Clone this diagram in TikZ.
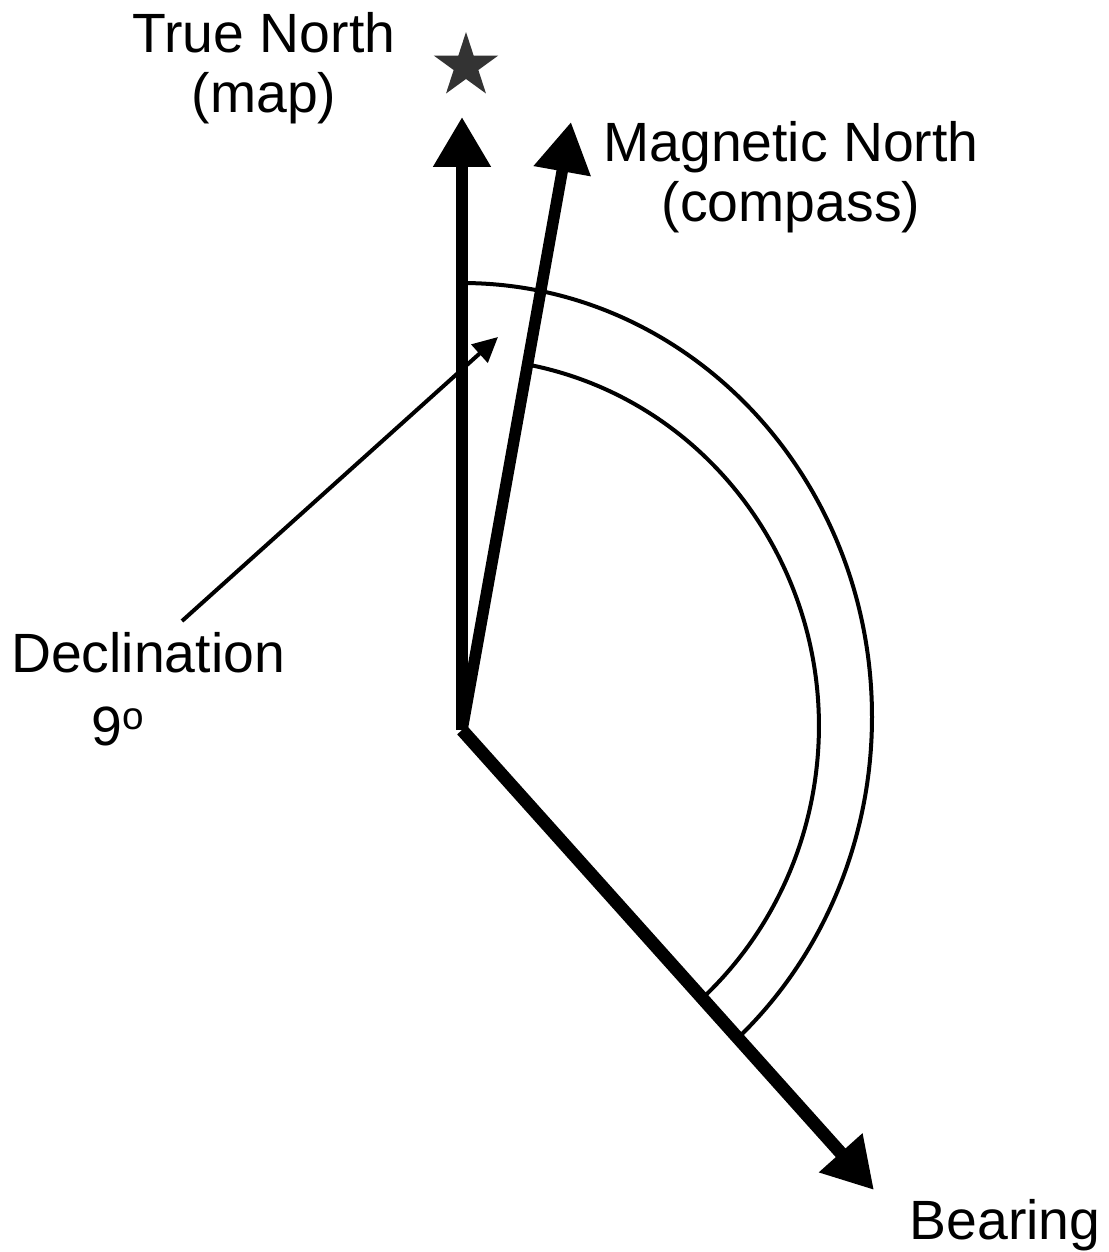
\documentclass[tikz,border=0pt]{standalone}
\usepackage{fontspec}
\setmainfont{Liberation Sans}
\usepackage{tikz}
\usetikzlibrary{arrows.meta, shapes.geometric, positioning}

\begin{document}
\begin{tikzpicture}[
    x=0.02cm, y=-0.02cm,
    bigarrow/.style={-{Triangle[length=1cm, width=1.1cm]}, line width=0.23cm},
    thinline/.style={line width=0.08cm},
    pointer/.style={-{Triangle[length=0.5cm, width=0.48cm]}, line width=0.08cm},
    caption/.style={font=\fontsize{31.5}{34}\selectfont, align=center, inner sep=0pt}
]
\useasboundingbox (0,0) rectangle (1109,1252);
\coordinate (o) at (462,730);
\coordinate (tn) at (462,117);
\coordinate (mn) at (571,122);
\coordinate (br) at (874,1190);
\coordinate (decl) at (182,621);
\coordinate (decltip) at (498,337);
% arcs
\draw[thinline] (462,283) arc[start angle=-90, end angle=47, x radius=410, y radius=434];
\draw[thinline] (530,365) arc[start angle=-79, end angle=47, x radius=357, y radius=368];
% arrows
\draw[bigarrow] (o) -- (tn);
\draw[bigarrow] (o) -- (mn);
\draw[bigarrow, line width=0.26cm] (o) -- (br);
\draw[pointer] (decl) -- (decltip);
\node[star, star points=5, star point ratio=2.618, minimum size=1.36cm, inner sep=0pt, fill=black!80] (star) at (466,66) {};
\node[caption, anchor=base] (tnlabel) at (264,112) {True North\\(map)};
\node[caption, anchor=base] (mnlabel) at (791,221) {Magnetic North\\(compass)};
\node[caption, anchor=base] (decllabel) at (148,745) {Declination\\[7pt]9\textsuperscript{o}\hspace*{1.2cm}};
\node[caption, anchor=base] (brlabel) at (1005,1239) {Bearing};
\end{tikzpicture}
\end{document}
